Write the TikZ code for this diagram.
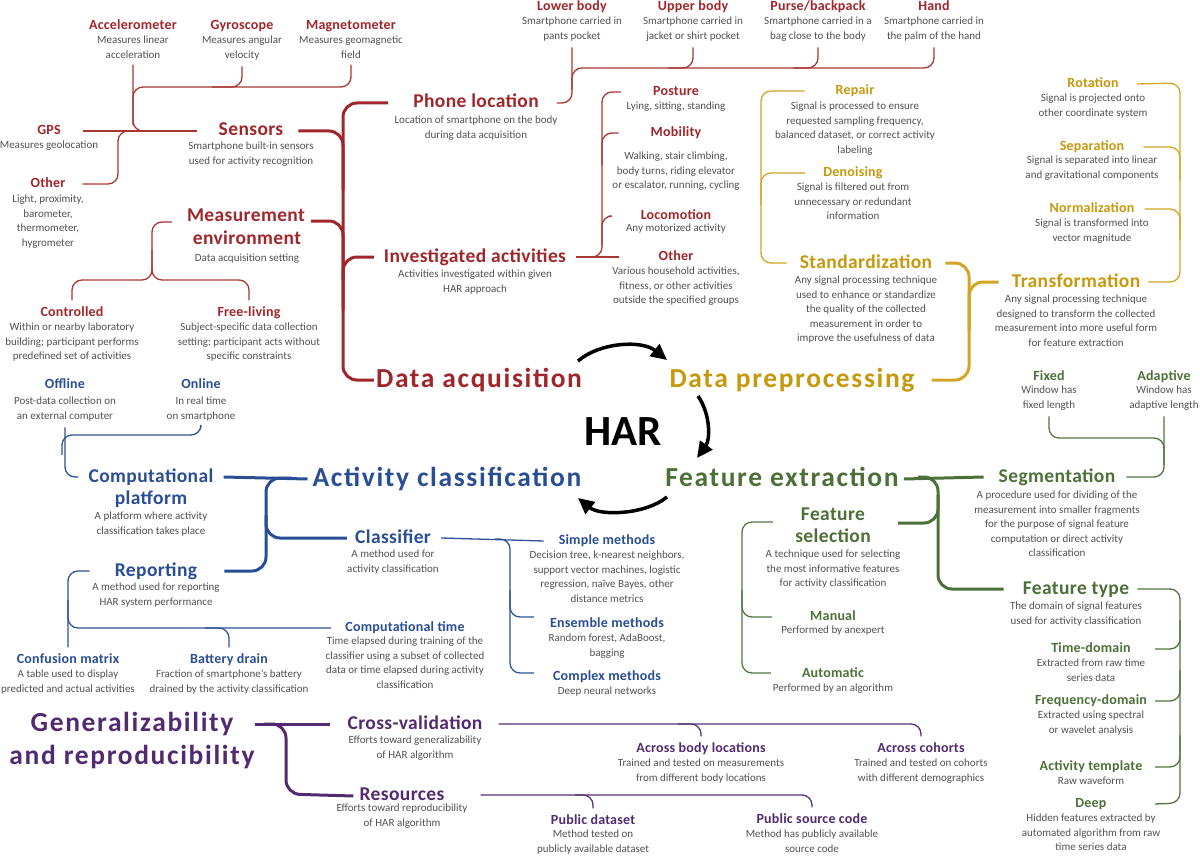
\documentclass[tikz,border=0pt]{standalone}
\usepackage{fontspec}
\setmainfont{Carlito}
\newfontfamily\dscf{Carlito}
\newfontfamily\ttlf[LetterSpace=1.5]{Carlito}
\newfontfamily\midf[LetterSpace=2]{Carlito}
\newfontfamily\bigf[LetterSpace=6]{Carlito}
\usetikzlibrary{arrows.meta}
\definecolor{cRed}{RGB}{160,38,44}
\definecolor{cRedL}{RGB}{168,55,50}
\definecolor{cGold}{RGB}{198,152,12}
\definecolor{cGoldL}{RGB}{210,165,35}
\definecolor{cBlue}{RGB}{42,78,148}
\definecolor{cBlueL}{RGB}{45,82,150}
\definecolor{cGreen}{RGB}{76,112,56}
\definecolor{cGreenL}{RGB}{82,118,62}
\definecolor{cPurp}{RGB}{82,42,112}
\definecolor{cPurpL}{RGB}{88,50,118}
\definecolor{cTxt}{RGB}{82,82,82}
\tikzset{
 ttl/.style={inner sep=0pt, font=\ttlf\bfseries\fontsize{14}{16}\selectfont, text height=10pt, text depth=3pt},
 mid/.style={inner sep=0pt, font=\midf\bfseries\fontsize{19.5}{22}\selectfont, text height=14pt, text depth=4pt},
 big/.style={inner sep=0pt, font=\bigf\bfseries\fontsize{27.5}{32}\selectfont, text height=20pt, text depth=6pt},
 dsc/.style={inner sep=0pt, anchor=north, align=center, text=cTxt, font=\dscf\fontsize{11}{14.5}\selectfont},
 thinln/.style={line width=1.3pt, rounded corners=10pt},
 thickln/.style={line width=3pt, rounded corners=14pt},
 rthin/.style={thinln, draw=cRedL}, rthick/.style={thickln, draw=cRed},
 gthin/.style={thinln, draw=cGoldL}, gthick/.style={thickln, draw=cGoldL},
 grthin/.style={thinln, draw=cGreenL}, grthick/.style={thickln, draw=cGreen},
 bthin/.style={thinln, draw=cBlueL}, bthick/.style={thickln, draw=cBlue},
 pthin/.style={thinln, draw=cPurpL}, pthick/.style={thickln, draw=cPurp},
 harr/.style={line width=3.5pt, draw=black, -{Triangle[length=16pt,width=15pt]}},
}
\begin{document}
\begin{tikzpicture}[x=1pt,y=-1pt]
\fill[white] (0,0) rectangle (1200,856);
\path[use as bounding box] (0,0) rectangle (1200,856);

% ---------------- RED: Data acquisition ----------------
\node[big,text=cRed] (da) at (479,380) {Data acquisition};
\node[ttl,text=cRed] (acc) at (133,26) {Accelerometer};
\node[dsc] (acc-d) at (133,36) {Measures linear\\acceleration};
\node[ttl,text=cRed] (gyr) at (242,26) {Gyroscope};
\node[dsc] (gyr-d) at (242,36) {Measures angular\\velocity};
\node[ttl,text=cRed] (mag) at (351,26) {Magnetometer};
\node[dsc] (mag-d) at (351,36) {Measures geomagnetic\\field};
\node[ttl,text=cRed] (gps) at (49,131) {GPS};
\node[dsc] (gps-d) at (49,141) {Measures geolocation};
\node[ttl,text=cRed] (oth) at (48,184) {Other};
\node[dsc] (oth-d) at (48,195) {Light, proximity,\\barometer,\\thermometer,\\hygrometer};
\node[mid,text=cRed] (sens) at (251,131) {Sensors};
\node[dsc] (sens-d) at (251,142) {Smartphone built-in sensors\\used for activity recognition};
\node[mid,text=cRed] (meas1) at (246,217) {Measurement};
\node[mid,text=cRed] (meas2) at (247,239) {environment};
\node[dsc] (meas-d) at (247,254) {Data acquisition setting};
\node[ttl,text=cRed] (ctrl) at (72,313) {Controlled};
\node[dsc] (ctrl-d) at (72,323) {Within or nearby laboratory\\building; participant performs\\predefined set of activities};
\node[ttl,text=cRed] (free) at (249,313) {Free-living};
\node[dsc] (free-d) at (249,323) {Subject-specific data collection\\setting; participant acts without\\specific constraints};
\node[mid,text=cRed] (phone) at (476,103) {Phone location};
\node[dsc] (phone-d) at (476,116) {Location of smartphone on the body\\during data acquisition};
\node[ttl,text=cRed] (lower) at (572,7) {Lower body};
\node[dsc] (lower-d) at (572,17) {Smartphone carried in\\pants pocket};
\node[ttl,text=cRed] (upper) at (693,7) {Upper body};
\node[dsc] (upper-d) at (693,17) {Smartphone carried in\\jacket or shirt pocket};
\node[ttl,text=cRed] (purse) at (818,7) {Purse/backpack};
\node[dsc] (purse-d) at (818,17) {Smartphone carried in a\\bag close to the body};
\node[ttl,text=cRed] (hand) at (934,7) {Hand};
\node[dsc] (hand-d) at (934,17) {Smartphone carried in\\the palm of the hand};
\node[mid,text=cRed] (inv) at (475,257) {Investigated activities};
\node[dsc] (inv-d) at (475,270) {Activities investigated within given\\HAR approach};
\node[ttl,text=cRed] (post) at (676,92) {Posture};
\node[dsc] (post-d) at (676,102) {Lying, sitting, standing};
\node[ttl,text=cRed] (mob) at (676,133) {Mobility};
\node[dsc] (mob-d) at (676,152) {Walking, stair climbing,\\body turns, riding elevator\\or escalator, running, cycling};
\node[ttl,text=cRed] (loco) at (676,216) {Locomotion};
\node[dsc] (loco-d) at (676,224) {Any motorized activity};
\node[ttl,text=cRed] (oth2) at (676,257) {Other};
\node[dsc] (oth2-d) at (676,267) {Various household activities,\\fitness, or other activities\\outside the specified groups};

\draw[rthin] ([yshift=-6pt]acc-d.south) |- ([xshift=-22pt]sens.west);
\draw[rthin] ([xshift=22pt]gps.east) -- ([xshift=-22pt]sens.west);
\draw[rthin] ([yshift=-6pt]mag-d.south) |- (133,87) -- (133,125);
\draw[rthin] ([yshift=-6pt]gyr-d.south) |- (212,87);
\draw[rthin] ([xshift=17pt]oth.east) -| (118,131) -- (150,131);
\draw[rthick] ([xshift=-25pt]phone.west) -| (343,380) -- ([xshift=-2pt]da.west);
\draw[rthick] ([xshift=15pt]sens.east) -| (343,190);
\draw[rthick] ([xshift=6pt,yshift=-4pt]meas1.east) -| (343,280);
\draw[rthick] ([xshift=-10pt]inv.west) -| (343,310);
\draw[rthin] ([xshift=18pt]phone.east) -| ([yshift=-6pt]lower-d.south);
\draw[rthin] (572,90) |- (934,68) -- ([yshift=-6pt]hand-d.south);
\draw[rthin] ([yshift=-6pt]upper-d.south) |- (668,68);
\draw[rthin] ([yshift=-6pt]purse-d.south) |- (793,68);
\draw[rthin] ([xshift=-15pt,yshift=-5pt]meas1.west) -| (152,280) -| ([yshift=6pt]ctrl.north);
\draw[rthin] (152,250) |- (230,280) -| ([yshift=6pt]free.north);
\draw[rthin] ([xshift=10pt]inv.east) -- ([xshift=-39pt]oth2.west);
\draw[rthin] ([xshift=-32pt]post.west) -| (602,257) -- (588,257);
\draw[rthin] ([xshift=-32pt]mob.west) -| (602,165);
\draw[rthin] ([xshift=-32pt]loco.west) -| (602,245);

% ---------------- GOLD: Data preprocessing ----------------
\node[big,text=cGold] (dp) at (792,380) {Data preprocessing};
\node[ttl,text=cGold] (repair) at (855,91) {Repair};
\node[dsc] (repair-d) at (855,102) {Signal is processed to ensure\\requested sampling frequency,\\balanced dataset, or correct activity\\labeling};
\node[ttl,text=cGold] (deno) at (853,173) {Denoising};
\node[dsc] (deno-d) at (853,183) {Signal is filtered out from\\unnecessary or redundant\\information};
\node[mid,text=cGold] (std) at (866,263) {Standardization};
\node[dsc] (std-d) at (866,276) {Any signal processing technique\\used to enhance or standardize\\the quality of the collected\\measurement in order to\\improve the usefulness of data};
\node[mid,text=cGold] (trans) at (1076,282) {Transformation};
\node[dsc] (trans-d) at (1076,295) {Any signal processing technique\\designed to transform the collected\\measurement into more useful form\\for feature extraction};
\node[ttl,text=cGold] (rot) at (1093,84) {Rotation};
\node[dsc] (rot-d) at (1093,94) {Signal is projected onto\\other coordinate system};
\node[ttl,text=cGold] (sep) at (1092,147) {Separation};
\node[dsc] (sep-d) at (1092,156) {Signal is separated into linear\\and gravitational components};
\node[ttl,text=cGold] (norm) at (1092,209) {Normalization};
\node[dsc] (norm-d) at (1092,219) {Signal is transformed into\\vector magnitude};

\draw[gthin] ([xshift=-31pt]repair.west) -| (761,263) -- ([xshift=-13pt]std.west);
\draw[gthin] ([xshift=-18pt]deno.west) -| (761,205);
\draw[gthick] ([xshift=13pt]std.east) -| (969,380) -- ([xshift=17pt]dp.east);
\draw[gthick] ([xshift=-13pt]trans.west) -| (969,330);
\draw[gthin] ([xshift=8pt]trans.east) -| (1180,83) -- ([xshift=18pt]rot.east);
\draw[gthin] ([xshift=19pt]sep.east) -| (1180,180);
\draw[gthin] ([xshift=10pt]norm.east) -| (1180,240);

% ---------------- HAR ----------------
\node[inner sep=0pt, font=\bfseries\fontsize{43}{45}\selectfont, text height=30pt, text depth=0pt] (har) at (623,430) {HAR};
\draw[harr] (578,361) .. controls (600,342) and (642,340) .. (667,360);
\draw[harr] (698,396) .. controls (711,415) and (710,440) .. (697,458);
\draw[harr] (667,497) .. controls (645,515) and (600,516) .. (578,498);

% ---------------- GREEN: Feature extraction ----------------
\node[big,text=cGreen] (fe) at (782,479) {Feature extraction};
\node[ttl,text=cGreen] (fixed) at (1049,377) {Fixed};
\node[dsc] (fixed-d) at (1049,386) {Window has\\fixed length};
\node[ttl,text=cGreen] (adapt) at (1164,377) {Adaptive};
\node[dsc] (adapt-d) at (1164,386) {Window has\\adaptive length};
\node[mid,text=cGreen] (seg) at (1057,477) {Segmentation};
\node[dsc] (seg-d) at (1057,491) {A procedure used for dividing of the\\measurement into smaller fragments\\for the purpose of signal feature\\computation or direct activity\\classification};
\node[mid,text=cGreen] (fsel1) at (833,515) {Feature};
\node[mid,text=cGreen] (fsel2) at (833,537) {selection};
\node[dsc] (fsel-d) at (833,550) {A technique used for selecting\\the most informative features\\for activity classification};
\node[ttl,text=cGreen] (manual) at (833,617) {Manual};
\node[dsc] (manual-d) at (833,626) {Performed by anexpert};
\node[ttl,text=cGreen] (auto) at (833,674) {Automatic};
\node[dsc] (auto-d) at (833,684) {Performed by an algorithm};
\node[mid,text=cGreen] (ftype) at (1076,589) {Feature type};
\node[dsc] (ftype-d) at (1076,602) {The domain of signal features\\used for activity classification};
\node[ttl,text=cGreen] (time) at (1091,649) {Time-domain};
\node[dsc] (time-d) at (1091,659) {Extracted from raw time\\series data};
\node[ttl,text=cGreen] (freq) at (1091,701) {Frequency-domain};
\node[dsc] (freq-d) at (1091,711) {Extracted using spectral\\or wavelet analysis};
\node[ttl,text=cGreen] (templ) at (1091,767) {Activity template};
\node[dsc] (templ-d) at (1091,777) {Raw waveform};
\node[ttl,text=cGreen] (deep) at (1091,804) {Deep};
\node[dsc] (deep-d) at (1091,814) {Hidden features extracted by\\automated algorithm from raw\\time series data};

\draw[grthick] ([xshift=5pt]fe.east) -- ([xshift=-15pt]seg.west);
\draw[grthick] ([xshift=-19pt]ftype.west) -| (938,477) -- (918,477);
\draw[grthick] ([xshift=33pt,yshift=-8pt]fsel1.east) -| (938,495);
\draw[grthin] ([xshift=11pt]seg.east) -| ([yshift=-6pt]adapt-d.south);
\draw[grthin] ([yshift=-6pt]fixed-d.south) |- (1164,438) -- (1164,465);
\draw[grthin] ([xshift=-28pt,yshift=-7pt]fsel1.west) -| (742,673) -- ([xshift=-31pt,yshift=1pt]auto.west);
\draw[grthin] ([xshift=-38pt]manual.west) -| (742,590);
\draw[grthin] ([xshift=8pt]ftype.east) -| (1180,803) -- (1155,0 |- deep.east);
\draw[grthin] (1155,0 |- time.east) -| (1180,620);
\draw[grthin] (1155,0 |- freq.east) -| (1180,670);
\draw[grthin] (1155,0 |- templ.east) -| (1180,735);

% ---------------- BLUE: Activity classification ----------------
\node[big,text=cBlue] (ac) at (447,479) {Activity classification};
\node[ttl,text=cBlue] (off) at (65,385) {Offline};
\node[dsc] (off-d) at (65,397) {Post-data collection on\\an external computer};
\node[ttl,text=cBlue] (on) at (201,385) {Online};
\node[dsc] (on-d) at (201,397) {In real time\\on smartphone};
\node[mid,text=cBlue] (cp1) at (151,477) {Computational};
\node[mid,text=cBlue] (cp2) at (151,499) {platform};
\node[dsc] (cp-d) at (151,512) {A platform where activity\\classification takes place};
\node[mid,text=cBlue] (clf) at (393,538) {Classifier};
\node[dsc] (clf-d) at (393,550) {A method used for\\activity classification};
\node[ttl,text=cBlue] (simple) at (607,541) {Simple methods};
\node[dsc] (simple-d) at (607,551) {Decision tree, k-nearest neighbors,\\support vector machines, logistic\\regression, naïve Bayes, other\\distance metrics};
\node[ttl,text=cBlue] (ens) at (607,624) {Ensemble methods};
\node[dsc] (ens-d) at (607,634) {Random forest, AdaBoost,\\bagging};
\node[ttl,text=cBlue] (cplx) at (607,677) {Complex methods};
\node[dsc] (cplx-d) at (607,687) {Deep neural networks};
\node[mid,text=cBlue] (rep) at (156,571) {Reporting};
\node[dsc] (rep-d) at (156,583) {A method used for reporting\\HAR system performance};
\node[ttl,text=cBlue] (conf) at (68,660) {Confusion matrix};
\node[dsc] (conf-d) at (68,670) {A table used to display\\predicted and actual activities};
\node[ttl,text=cBlue] (batt) at (229,660) {Battery drain};
\node[dsc] (batt-d) at (229,670) {Fraction of smartphone’s battery\\drained by the activity classification};
\node[ttl,text=cBlue] (ctime) at (405,628) {Computational time};
\node[dsc] (ctime-d) at (405,637) {Time elapsed during training of the\\classifier using a subset of collected\\data or time elapsed during activity\\classification};

\draw[bthick] ([xshift=10pt]cp1.east) -- ([xshift=-5pt]ac.west);
\draw[bthick] (292,478) -| (266,538) -- ([xshift=-8pt]clf.west);
\draw[bthick] (266,515) |- ([xshift=27pt]rep.east);
\draw[bthin] ([yshift=-6pt]off-d.south) |- ([xshift=-10pt]cp1.west);
\draw[bthin] ([yshift=-6pt]on-d.south) |- (62,435) -- (62,455);
\draw[bthin] ([xshift=10pt]clf.east) -- ([xshift=-15pt]simple.west);
\draw[bthin] (495,539) -| (510,673) -- ([xshift=-19pt,yshift=4pt]cplx.west);
\draw[bthin] (510,590) |- ([xshift=-16pt,yshift=7pt]ens.west);
\draw[bthin] ([xshift=-25pt]rep.west) -| ([yshift=6pt]conf.north);
\draw[bthin] (68,600) |- ([xshift=-14pt]ctime.west);
\draw[bthin] (205,628) -| ([yshift=6pt]batt.north);

% ---------------- PURPLE: Generalizability ----------------
\node[big,text=cPurp] (gen1) at (132,724) {Generalizability};
\node[big,text=cPurp] (gen2) at (132,757) {and reproducibility};
\node[mid,text=cPurp] (cv) at (415,724) {Cross-validation};
\node[dsc] (cv-d) at (415,736) {Efforts toward generalizability\\of HAR algorithm};
\node[mid,text=cPurp] (res) at (402,795) {Resources};
\node[dsc] (res-d) at (402,804) {Efforts toward reproducibility\\of HAR algorithm};
\node[ttl,text=cPurp] (abl) at (701,749) {Across body locations};
\node[dsc] (abl-d) at (701,759) {Trained and tested on measurements\\from different body locations};
\node[ttl,text=cPurp] (coh) at (921,749) {Across cohorts};
\node[dsc] (coh-d) at (921,759) {Trained and tested on cohorts\\with different demographics};
\node[ttl,text=cPurp] (pds) at (593,821) {Public dataset};
\node[dsc] (pds-d) at (593,830) {Method tested on\\publicly available dataset};
\node[ttl,text=cPurp] (psc) at (812,820) {Public source code};
\node[dsc] (psc-d) at (812,830) {Method has publicly available\\source code};

\draw[pthick] ([xshift=21pt]gen1.east) -- ([xshift=-17pt]cv.west);
\draw[pthick] (264,724) -| (286,794) -- ([xshift=-6pt,yshift=-1pt]res.west);
\draw[pthin] ([xshift=16pt]cv.east) -| ([yshift=6pt]coh.north);
\draw[pthin] (678,724) -| ([yshift=6pt]abl.north);
\draw[pthin] ([xshift=36pt]res.east) -| ([yshift=6pt]psc.north);
\draw[pthin] (575,795) -| ([yshift=6pt]pds.north);
\end{tikzpicture}
\end{document}
